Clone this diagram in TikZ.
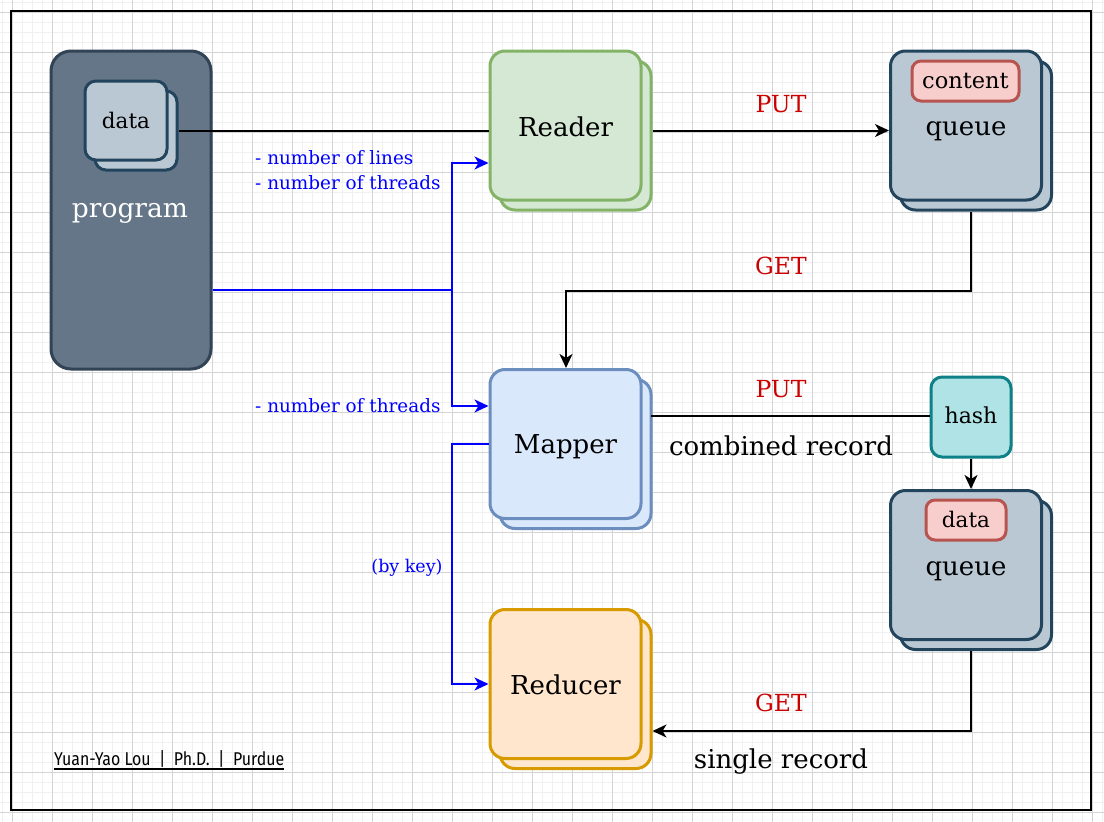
\documentclass[tikz,border=0pt]{standalone}
\usepackage{fontspec}
\setmainfont{DejaVu Serif}
\newfontfamily\sigfont{Fira Sans}
\usetikzlibrary{arrows.meta}
\definecolor{progfill}{HTML}{647687}
\definecolor{progline}{HTML}{314354}
\definecolor{qfill}{HTML}{BAC8D3}
\definecolor{qline}{HTML}{23445D}
\definecolor{rdfill}{HTML}{D5E8D4}
\definecolor{rdline}{HTML}{82B366}
\definecolor{mpfill}{HTML}{DAE8FC}
\definecolor{mpline}{HTML}{6C8EBF}
\definecolor{rcfill}{HTML}{FFE6CC}
\definecolor{rcline}{HTML}{D79B00}
\definecolor{hsfill}{HTML}{B0E3E6}
\definecolor{hsline}{HTML}{0E8088}
\definecolor{tgfill}{HTML}{F8CECC}
\definecolor{tgline}{HTML}{B85450}
\definecolor{opred}{HTML}{CC0000}
\definecolor{minorgrid}{HTML}{F0F0F0}
\definecolor{majorgrid}{HTML}{D4D4D4}
\begin{document}
\begin{tikzpicture}[x=1pt,y=-1pt,
  bigbox/.style={rectangle, rounded corners=15pt, line width=3pt, minimum width=151pt, minimum height=149pt, inner sep=0pt},
  tagbox/.style={rectangle, rounded corners=9pt, line width=3pt, inner sep=0pt, fill=tgfill, draw=tgline},
  txt/.style={anchor=base, inner sep=0pt},
  maintext/.style={txt, font=\fontsize{26}{30}\selectfont},
  smalltext/.style={txt, font=\fontsize{21.5}{25}\selectfont},
  optext/.style={txt, font=\fontsize{23.5}{28}\selectfont, text=opred},
  bluetext/.style={anchor=base west, inner sep=0pt, font=\fontsize{18.4}{25}\selectfont, text=blue},
  conn/.style={line width=2pt, draw=black},
  bconn/.style={line width=2pt, draw=blue},
  tip/.style={-{Stealth[length=14pt,width=13pt,inset=4pt]}}
]
\useasboundingbox (0,0) rectangle (1104,822);
\fill[white] (0,0) rectangle (1104,822);
% grid
\foreach \g in {2,12,...,1102} \draw[minorgrid, line width=0.8pt] (\g,0) -- (\g,822);
\foreach \g in {2,12,...,822} \draw[minorgrid, line width=0.8pt] (0,\g) -- (1104,\g);
\foreach \g in {12,52,...,1092} \draw[majorgrid, line width=0.8pt] (\g,0) -- (\g,822);
\foreach \g in {12,52,...,812} \draw[majorgrid, line width=0.8pt] (0,\g) -- (1104,\g);
% frame
\draw[line width=2pt] (11,11) rectangle (1091,810);

% program
\node[rectangle, rounded corners=20pt, line width=3pt, fill=progfill, draw=progline, minimum width=160pt, minimum height=318pt] (prog) at (131,210) {};
\node[txt, text=white, font=\fontsize{26.5}{30}\selectfont] (progtxt) at (130,217) {program};
\node[rectangle, rounded corners=11pt, line width=3pt, fill=qfill, draw=qline, minimum width=82pt, minimum height=79pt] (dataB) at (136,130.5) {};
\node[rectangle, rounded corners=11pt, line width=3pt, fill=qfill, draw=qline, minimum width=82pt, minimum height=79pt] (dataF) at (126,120.5) {};
\node[smalltext] (datatxt) at (126,128) {data};

% Reader
\node[bigbox, fill=rdfill, draw=rdline] (readerB) at (575.5,135.5) {};
\node[bigbox, fill=rdfill, draw=rdline] (reader) at (565.5,125.5) {};
\node[maintext] (readertxt) at (565.5,136) {Reader};

% queue top
\node[bigbox, fill=qfill, draw=qline] (queue1B) at (976,135.5) {};
\node[bigbox, fill=qfill, draw=qline] (queue1) at (966,125.5) {};
\node[tagbox, minimum width=107pt, minimum height=40pt] (content) at (965.5,81) {};
\node[txt, font=\fontsize{22.5}{26}\selectfont] (contenttxt) at (965.5,88) {content};
\node[maintext] (q1txt) at (966,135) {queue};

% Mapper
\node[bigbox, fill=mpfill, draw=mpline] (mapperB) at (575.5,454) {};
\node[bigbox, fill=mpfill, draw=mpline] (mapper) at (565.5,444) {};
\node[maintext] (mappertxt) at (565.5,453) {Mapper};

% hash
\node[rectangle, rounded corners=11pt, line width=3pt, fill=hsfill, draw=hsline, minimum width=80pt, minimum height=80pt] (hash) at (971,417) {};
\node[txt, font=\fontsize{22}{26}\selectfont] (hashtxt) at (971,423) {hash};

% queue bottom
\node[bigbox, fill=qfill, draw=qline] (queue2B) at (976,575) {};
\node[bigbox, fill=qfill, draw=qline] (queue2) at (966,565) {};
\node[tagbox, minimum width=80pt, minimum height=40pt] (datatag) at (966,520) {};
\node[smalltext] (datatagtxt) at (966,527) {data};
\node[maintext] (q2txt) at (966,575) {queue};

% Reducer
\node[bigbox, fill=rcfill, draw=rcline] (reducerB) at (575.5,694) {};
\node[bigbox, fill=rcfill, draw=rcline] (reducer) at (565.5,684) {};
\node[maintext] (reducertxt) at (565.5,694) {Reducer};

% black connectors
\draw[conn] (dataB.east) -- (dataB.east -| reader.west);
\draw[conn, tip] (readerB.east |- dataB.east) -- (queue1.west |- dataB.east);
\coordinate (g1a) at (971,291);
\coordinate (g1b) at (566,291);
\draw[conn, tip] (g1a |- queue1B.south) -- (g1a) -- (g1b) -- (g1b |- mapper.north);
\coordinate (p2) at (651,416);
\draw[conn] (p2) -- (p2 -| hash.west);
\draw[conn, tip] (hash.south) -- (hash.south |- queue2.north);
\coordinate (g2a) at (971,731);
\draw[conn, tip] (g2a |- queue2B.south) -- (g2a) -- (g2a -| reducerB.east);

% blue connectors
\coordinate (bj) at (452,290);
\coordinate (bu) at (452,163);
\coordinate (bd) at (452,406);
\draw[bconn] (bj -| prog.east) -- (bj);
\draw[bconn, tip] (bj) -- (bu) -- (bu -| reader.west);
\draw[bconn, tip] (bj) -- (bd) -- (bd -| mapper.west);
\coordinate (mk) at (452,444);
\coordinate (mr) at (452,684);
\draw[bconn, tip] (mk -| mapper.west) -- (mk) -- (mr) -- (mr -| reducer.west);

% labels
\node[optext] (put1) at (781,112) {PUT};
\node[optext] (get1) at (781,274) {GET};
\node[optext] (put2) at (781,397) {PUT};
\node[maintext] (comb) at (781,455) {combined record};
\node[optext] (get2) at (781,711) {GET};
\node[maintext] (single) at (781,768) {single record};
\node[bluetext] (blab1) at (255,164) {- number of lines};
\node[bluetext] (blab1b) at (255,189) {- number of threads};
\node[bluetext] (blab2) at (255,412) {- number of threads};
\node[txt, font=\fontsize{17.5}{22}\selectfont, text=blue] (bykey) at (407,572) {(by key)};

% signature
\node[anchor=base west, inner sep=0pt] (sig) at (54,765) {\scalebox{0.86}[1]{\sigfont\fontsize{18.5}{20}\selectfont Yuan-Yao Lou \ | \ Ph.D. \ | \ Purdue}};
\coordinate (ul) at (54,769);
\draw[line width=2pt] (ul) -- (ul -| sig.east);
\end{tikzpicture}
\end{document}
